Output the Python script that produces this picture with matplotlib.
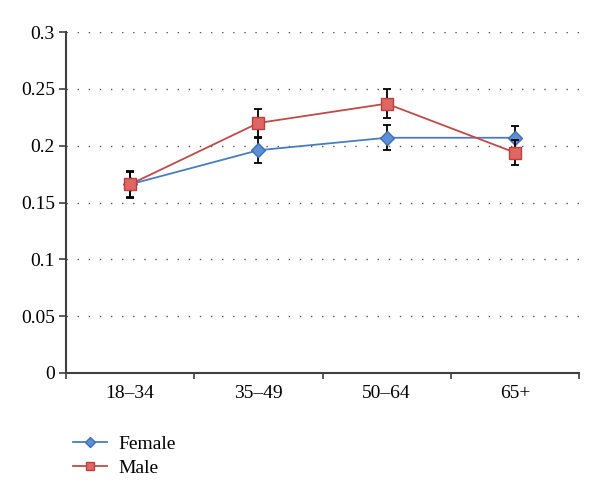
import numpy as np
import matplotlib.pyplot as plt
from matplotlib.lines import Line2D

# Age groups vs. value, female/male with error bars
groups = ["18\u201334", "35\u201349", "50\u201364", "65+"]
female = [0.166, 0.196, 0.207, 0.207]
female_err = [0.011, 0.011, 0.011, 0.010]
male = [0.166, 0.220, 0.237, 0.194]
male_err = [0.012, 0.012, 0.013, 0.011]
yticks = [0, 0.05, 0.1, 0.15, 0.2, 0.25, 0.3]

plt.rcParams["font.family"] = ["Liberation Serif", "DejaVu Serif"]

BLUE = "#4a7ebb"
RED = "#be4b48"

fig = plt.figure(figsize=(6, 5.01), dpi=100)
ax = fig.add_axes([0.11, 0.2555, 0.855, 0.6805])

x = np.arange(len(groups))
ax.errorbar(x, female, yerr=female_err, color=BLUE, lw=1.3,
            marker="D", ms=7, mfc="#5b8fd6", mec="#3f6fb0",
            ecolor="black", elinewidth=1.3, capsize=3, capthick=1.3,
            zorder=3)
ax.errorbar(x, male, yerr=male_err, color=RED, lw=1.3,
            marker="s", ms=9, mfc="#e06664", mec="#b8403d",
            ecolor="black", elinewidth=1.3, capsize=3, capthick=1.3,
            zorder=4)

ax.set_xlim(-0.5, len(groups) - 0.5)
ax.set_ylim(0, 0.3)
ax.set_yticks(yticks)
ax.set_yticklabels(["0", "0.05", "0.1", "0.15", "0.2", "0.25", "0.3"])
ax.set_xticks(x)
ax.set_xticklabels(groups)
ax.set_xticks(np.arange(len(groups) + 1) - 0.5, minor=True)
ax.tick_params(axis="x", which="major", length=0, labelsize=14, pad=9)
ax.tick_params(axis="x", which="minor", length=4, width=1.2, color="#404040")
ax.tick_params(axis="y", length=5, width=1.2, color="#404040", labelsize=14, pad=3)

for s in ["top", "right"]:
    ax.spines[s].set_visible(False)
for s in ["left", "bottom"]:
    ax.spines[s].set_color("#404040")
    ax.spines[s].set_linewidth(1.5)

ax.grid(axis="y", linestyle=(0, (1, 7)), color="#555555", lw=1.0)
ax.set_axisbelow(True)

handles = [
    Line2D([], [], color=BLUE, lw=1.3, marker="D", ms=5, mfc="#5b8fd6", mec="#3f6fb0"),
    Line2D([], [], color=RED, lw=1.3, marker="s", ms=6, mfc="#e06664", mec="#b8403d"),
]
fig.legend(handles, ["Female", "Male"], loc="upper left", bbox_to_anchor=(0.108, 0.147),
           frameon=False, fontsize=14, handlelength=1.75, labelspacing=0.35,
           handletextpad=0.6, borderaxespad=0)

fig.savefig("out.png", dpi=100)
